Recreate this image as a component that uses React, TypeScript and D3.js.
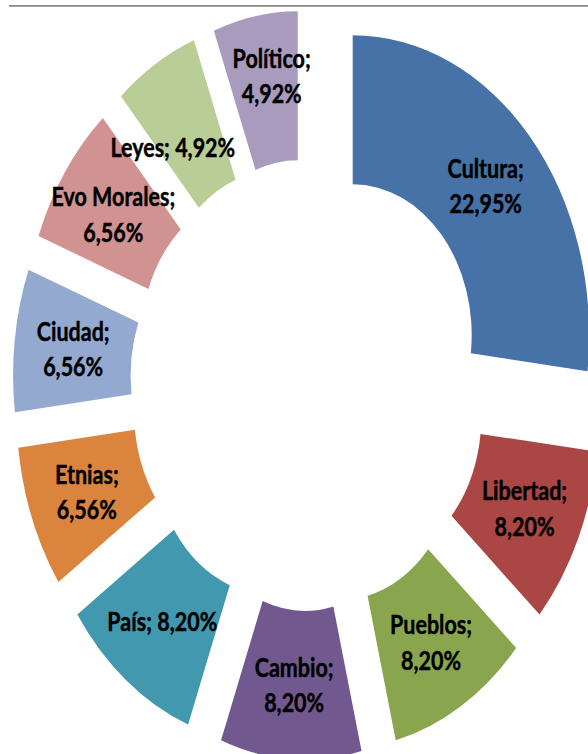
import { useEffect, useRef } from "react";
import * as d3 from "d3";

const categories = ["Cultura", "Libertad", "Pueblos", "Cambio", "País", "Etnias", "Ciudad", "Evo Morales", "Leyes", "Político"];
const values = [22.95, 8.2, 8.2, 8.2, 8.2, 6.56, 6.56, 6.56, 4.92, 4.92];
const colors = ["#4672A8", "#AA4644", "#89A54E", "#71598F", "#4198AF", "#DB843D", "#93A9CF", "#D19392", "#B9CD96", "#A99BBD"];
// labels Excel put on one line
const oneLine = ["País", "Leyes"];

export default function App() {
    const chart = useRef(null);

    useEffect(() => {
        const svg = d3.select(chart.current);
        svg.selectAll("*").remove();

        const W = 588, H = 754;
        const cx = 308.4, cy = 385;
        const k = 1.268 // the picture is stretched vertically
        const inner = 119, outer = 236.5, explode = 59.2;
        const fs = 21.5;
        // hand moved labels, in screen px
        const nudge = { "Político": [6, -14], "Leyes": [-13, 19] };

        svg.attr("width", W).attr("height", H);

        svg.append("line")
            .attr("x1", 9).attr("x2", W)
            .attr("y1", 5.8).attr("y2", 5.8)
            .attr("stroke", "#868686")
            .attr("stroke-width", 1.8);

        const data = categories.map((c, i) => ({ name: c, value: values[i], color: colors[i] }));
        const pie = d3.pie().sort(null).value(d => d.value);
        const arc = d3.arc().innerRadius(inner).outerRadius(outer);
        const arcs = pie(data);

        const g = svg.append("g")
            .attr("transform", `translate(${cx},${cy}) scale(1,${k})`);

        const fmt = v => d3.format(".2f")(v).replace(".", ",") + "%";

        const slice = g.selectAll("g.slice")
            .data(arcs)
            .join("g")
            .attr("class", "slice")
            .attr("transform", d => {
                const a = (d.startAngle + d.endAngle) / 2;
                return `translate(${explode * Math.sin(a)},${-explode * Math.cos(a)})`;
            });

        slice.append("path")
            .attr("d", arc)
            .attr("fill", d => d.data.color);

        slice.each(function (d) {
            const [x0, y0] = arc.centroid(d);
            const n = nudge[d.data.name] || [0, 0];
            const x = x0 + n[0];
            const y = y0 + n[1] / k;
            const t = d3.select(this).append("text")
                .attr("text-anchor", "middle")
                .attr("font-family", "Lato, 'Open Sans', sans-serif")
                .attr("font-weight", "bold")
                .attr("font-size", fs)
                .attr("fill", "#000")
                .attr("stroke", "#000")
                .attr("stroke-width", 0.35);
            if (oneLine.includes(d.data.name)) {
                t.append("tspan").attr("x", x).attr("y", y + fs * 0.36)
                    .text(`${d.data.name}; ${fmt(d.data.value)}`);
            } else {
                t.append("tspan").attr("x", x).attr("y", y - 14 + fs * 0.36)
                    .text(`${d.data.name};`);
                t.append("tspan").attr("x", x).attr("y", y + 14 + fs * 0.36)
                    .text(fmt(d.data.value));
            }
        });
    }, []);

    return (
        <svg ref={chart} style={{ position: "absolute", left: 0, top: 0, background: "#fff" }} />
    );
}
